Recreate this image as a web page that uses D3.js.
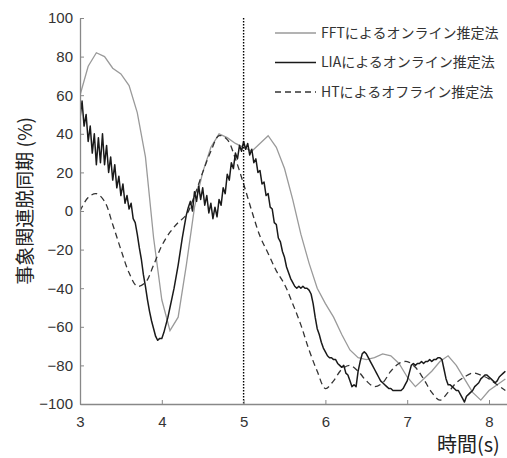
<!DOCTYPE html>
<html>
<head>
<meta charset="utf-8">
<script src="https://cdn.jsdelivr.net/npm/d3@7"></script>
<style>
  body { margin: 0; background: #fff; }
  svg { display: block; }
</style>
</head>
<body>
<svg id="chart"></svg>
<script>
var width = 507;
var height = 458;

// legend labels
var seriesNames = ['FFTによるオンライン推定法', 'LIAによるオンライン推定法', 'HTによるオフライン推定法'];

var xTicks = [3, 4, 5, 6, 7, 8];
var yTicks = [-100, -80, -60, -40, -20, 0, 20, 40, 60, 80, 100];

// FFT estimate, one value per 0.1 s from 3.0 s
var fftValues = [60, 75, 82, 80, 74, 71, 65, 51, 28, -14, -46, -62, -55, -28, 2, 20, 33, 40, 38, 35,
  33, 31, 35, 39, 33, 22, 6, -12, -27, -40, -48, -55, -64, -72, -76, -77, -76, -74, -75, -79,
  -86, -91, -87, -83, -78, -75, -80, -87, -94, -98, -93, -90, -87];

// HT (offline), one value per 0.1 s from 3.0 s
var htValues = [0, 7, 9, 5, -7, -20, -32, -39, -37, -28, -18, -11, -6, -2, 8, 20, 31, 39, 37, 27,
  14, 0, -13, -22, -31, -38, -48, -59, -72, -83, -92, -88, -82, -80, -83, -88, -91, -89, -83, -79,
  -78, -81, -87, -94, -98, -94, -89, -86, -84, -85, -87, -90, -93];

// LIA estimate, one value per 0.025 s from 3.0 s
var liaValues = [
  48, 57, 44, 50, 36, 44, 30, 40, 24, 38, 25, 40, 24, 34, 20, 28, 16, 24, 12, 18,   // 3.000 - 3.475
  8, 14, 4, 8, 1, 4, -4, -6, -12, -19, -25, -33, -39, -46, -52, -57, -61, -65, -67, -66, // 3.500 - 3.975
  -66, -63, -59, -55, -50, -45, -40, -34, -28, -21, -14, -8, -2, 2, 5, 0, 10, 5, 13, 6,  // 4.000 - 4.475
  12, 3, 8, -1, 4, -4, 2, -3, 6, 3, 12, 9, 19, 16, 25, 22, 30, 27, 34, 31,                // 4.500 - 4.975
  36, 32, 35, 29, 32, 25, 27, 20, 21, 14, 15, 8, 9, 2, 1, -6, -7, -14, -16, -21,          // 5.000 - 5.475
  -24, -29, -32, -35, -37, -39, -40, -39, -40, -39, -40, -40, -41, -43, -48, -55, -61, -64, -68, -71, // 5.500 - 5.975
  -73, -75, -76, -76, -77, -77, -79, -80, -81, -80, -84, -85, -88, -91, -90, -91, -83, -78, -74, -73, // 6.000 - 6.475
  -74, -76, -78, -80, -82, -84, -86, -88, -89, -90, -91, -92, -92, -93, -93, -93, -93, -93, -92, -90, // 6.500 - 6.975
  -88, -84, -80, -79, -80, -79, -79, -78, -79, -78, -78, -77, -78, -77, -77, -76, -76, -77, -82, -87, // 7.000 - 7.475
  -90, -90, -91, -92, -93, -93, -95, -97, -99, -96, -95, -94, -93, -91, -90, -89, -87, -86, -85, -85, // 7.500 - 7.975
  -86, -87, -88, -89, -88, -86, -85, -84, -83                                              // 8.000 - 8.200
];

var eventTime = 5;

var margin = {left: 80, top: 18, bottom: 54};
var plotBottom = height - margin.bottom;

var svg = d3.select('#chart')
            .attr('width', width)
            .attr('height', height);

var x = d3.scaleLinear().domain([3, 8.22]).range([margin.left, width]);
var y = d3.scaleLinear().domain([-100, 100]).range([plotBottom, margin.top]);

var toPoints = function(values, step){
  return values.map(function(v, i){ return [3 + i * step, v]; });
};

svg.append('clipPath')
   .attr('id', 'plot-clip')
   .append('rect')
   .attr('x', margin.left)
   .attr('y', margin.top - 2)
   .attr('width', width - margin.left)
   .attr('height', plotBottom - margin.top + 2);

var plot = svg.append('g').attr('clip-path', 'url(#plot-clip)');

var line = d3.line()
  .x(function(d){ return x(d[0]); })
  .y(function(d){ return y(d[1]); });

plot.append('path')
    .datum(toPoints(fftValues, 0.1))
    .attr('fill', 'none')
    .attr('stroke', '#9a9a9a')
    .attr('stroke-width', 1.3)
    .attr('d', line);

plot.append('path')
    .datum(toPoints(htValues, 0.1))
    .attr('fill', 'none')
    .attr('stroke', '#333')
    .attr('stroke-width', 1.3)
    .attr('stroke-dasharray', '6,4')
    .attr('d', line.curve(d3.curveCatmullRom));

plot.append('path')
    .datum(toPoints(liaValues, 0.025))
    .attr('fill', 'none')
    .attr('stroke', '#1a1a1a')
    .attr('stroke-width', 1.5)
    .attr('stroke-linejoin', 'round')
    .attr('d', line.curve(d3.curveLinear));

// stimulus onset
svg.append('line')
   .attr('x1', x(eventTime))
   .attr('x2', x(eventTime))
   .attr('y1', margin.top)
   .attr('y2', plotBottom)
   .attr('stroke', '#000')
   .attr('stroke-width', 1.4)
   .attr('stroke-dasharray', '1.5,1.5');

// axes
var xAxis = svg.append('g')
  .attr('transform', 'translate(0,' + plotBottom + ')')
  .call(d3.axisBottom(x).tickValues(xTicks).tickFormat(d3.format('d'))
    .tickSizeInner(-4).tickSizeOuter(0).tickPadding(12));

var yAxis = svg.append('g')
  .attr('transform', 'translate(' + margin.left + ',0)')
  .call(d3.axisLeft(y).tickValues(yTicks).tickFormat(d3.format('d'))
    .tickSizeInner(-4).tickSizeOuter(0).tickPadding(7));

[xAxis, yAxis].forEach(function(ax){
  ax.select('.domain').attr('stroke', '#888').attr('stroke-width', 1.3);
  ax.selectAll('.tick line').attr('stroke', '#888');
  ax.selectAll('.tick text')
    .attr('fill', '#333')
    .style('font-family', '"Liberation Sans", Arial, sans-serif')
    .style('font-size', '15px');
});

// axis titles
svg.append('text')
   .attr('transform', 'translate(32,201) rotate(-90)')
   .attr('text-anchor', 'middle')
   .attr('fill', '#222')
   .style('font-family', '"Noto Sans CJK JP", sans-serif')
   .style('font-size', '19px')
   .text('事象関連脱同期 (%)');

svg.append('text')
   .attr('x', 437)
   .attr('y', 452)
   .attr('fill', '#222')
   .style('font-family', '"Noto Sans CJK JP", sans-serif')
   .style('font-size', '20px')
   .text('時間(s)');

// legend
var legendStyles = [
  {stroke: '#9a9a9a', width: 1.3, dash: null},
  {stroke: '#1a1a1a', width: 1.6, dash: null},
  {stroke: '#333', width: 1.5, dash: '6,4'}
];
var legend_x = 275;
var legend_y = 33;
var legend_gap = 29.5;

var legend = svg.selectAll('g.legend')
  .data(seriesNames)
  .enter()
  .append('g')
  .attr('class', 'legend')
  .attr('transform', function(d, i){
    return 'translate(' + legend_x + ',' + (legend_y + i * legend_gap) + ')';
  });

legend.append('line')
  .attr('x1', 0)
  .attr('x2', 41)
  .attr('stroke', function(d, i){ return legendStyles[i].stroke; })
  .attr('stroke-width', function(d, i){ return legendStyles[i].width; })
  .attr('stroke-dasharray', function(d, i){ return legendStyles[i].dash; });

legend.append('text')
  .attr('x', 46)
  .attr('dy', '0.35em')
  .attr('fill', '#333')
  .style('font-family', '"Noto Sans CJK JP", sans-serif')
  .style('font-size', '14px')
  .text(function(d){ return d; });
</script>
</body>
</html>
